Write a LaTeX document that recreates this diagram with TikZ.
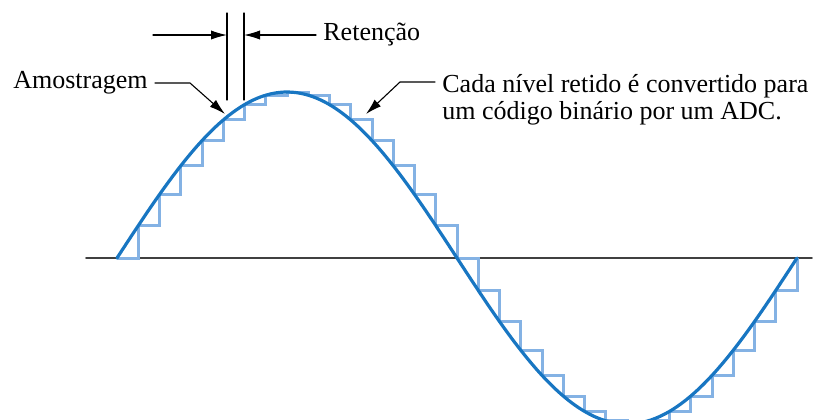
\documentclass[tikz,border=0pt]{standalone}
\usepackage{fontspec}
\setmainfont{Liberation Serif}
\usetikzlibrary{arrows.meta}
\definecolor{onda}{RGB}{24,118,194}
\definecolor{degrau}{RGB}{132,178,228}
\begin{document}
\begin{tikzpicture}[x=0.5pt,y=-0.5pt,line cap=round,line join=round,font=\fontsize{13}{13.5}\selectfont,
	rotulo/.style={inner sep=3.5pt},
	guia/.style={line width=0.55pt,-{Latex[length=8pt,width=4.6pt]}}]
	\useasboundingbox (0,0) rectangle (823,419);
	\clip (0,0) rectangle (823,419);
	\def\xo{117}\def\yo{258}\def\T{680}\def\A{166}\def\n{32}
	\draw[line width=0.9pt,black!75] (86,\yo) -- (812,\yo);
	\foreach \k in{0,...,31}{\pgfmathsetmacro\ta{\xo+\T/\n*\k}\pgfmathsetmacro\tb{\xo+\T/\n*(\k+1)}
		\pgfmathsetmacro\va{\yo-\A*sin(360/\n*\k)}\pgfmathsetmacro\vb{\yo-\A*sin(360/\n*(\k+1))}
		\draw[degrau,line width=1.5pt,line cap=butt,line join=miter] (\ta,\va) -- (\tb,\va) -- (\tb,\vb);}
	\draw[onda,line width=1.6pt] plot[domain=0:\T,samples=160,smooth] ({\xo+\x},{\yo-\A*sin(\x/\T*360)});
	% retencao
	\coordinate (r1) at (227,35); \coordinate (r2) at (244,35); \coordinate (rl) at (153,35);
	\draw[line width=0.6pt] (227,13) -- (227,100) (244,13) -- (244,100);
	\node[rotulo,anchor=west] (ret) at (316,35) {Retenção};
	\draw[guia] (rl) -- (r1);
	\draw[guia] (ret.west) -- (r2);
	% amostragem
	\node[rotulo,anchor=east] (amo) at (155,83) {Amostragem};
	\coordinate (amoq) at (190,83); \coordinate (amop) at (225,114);
	\draw[guia] (amo.east) -- (amoq) -- (amop);
	% conversao
	\node[rotulo,anchor=north west,align=left] (cada) at (435,67) {Cada nível retido é convertido para\\um código binário por um ADC.};
	\coordinate (cadaq) at (400,82); \coordinate (cadap) at (366,114);
	\draw[guia] ([yshift=-7.5pt]cada.north west) -- (cadaq) -- (cadap);
\end{tikzpicture}
\end{document}
